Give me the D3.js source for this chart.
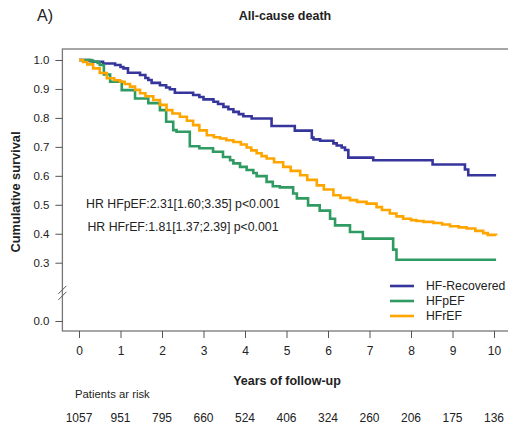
<!DOCTYPE html>
<html>
<head>
<meta charset="utf-8">
<script src="https://cdn.jsdelivr.net/npm/d3@7"></script>
<style>
  html, body { margin: 0; padding: 0; background: #fff; }
  svg { display: block; font-family: "Liberation Sans", Arial, Helvetica, sans-serif; }
</style>
</head>
<body>
<svg id="chart" width="508" height="428"></svg>
<script>
// Kaplan-Meier step curves: time (years) and cumulative survival
const recoveredTime = [0, 0.25, 0.34, 0.58, 0.87, 1.0, 1.07, 1.18, 1.47, 1.6, 1.67, 1.75, 1.95, 2.1, 2.19, 2.31, 2.75, 2.9, 3.0, 3.24, 3.35, 3.48, 3.6, 3.72, 3.85, 3.96, 4.16, 4.64, 5.2, 5.61, 5.65, 5.81, 6.13, 6.21, 6.33, 6.41, 6.49, 7.09, 8.52, 9.3, 9.38, 10.05];
const recoveredSurv = [1.0, 0.997, 0.994, 0.988, 0.983, 0.976, 0.971, 0.956, 0.948, 0.938, 0.931, 0.921, 0.913, 0.905, 0.899, 0.887, 0.879, 0.872, 0.864, 0.856, 0.848, 0.838, 0.83, 0.821, 0.813, 0.806, 0.798, 0.772, 0.756, 0.732, 0.726, 0.721, 0.712, 0.705, 0.698, 0.689, 0.663, 0.654, 0.639, 0.622, 0.602, 0.602];

const pefTime = [0, 0.3, 0.45, 0.5, 0.6, 0.75, 1.03, 1.35, 1.67, 1.95, 2.1, 2.27, 2.35, 2.67, 2.9, 3.23, 3.47, 3.64, 3.72, 3.88, 4.04, 4.2, 4.28, 4.52, 4.67, 4.84, 5.16, 5.25, 5.52, 5.8, 6.05, 6.17, 6.53, 6.84, 7.57, 7.65, 10.05];
const pefSurv = [1.0, 0.995, 0.99, 0.983, 0.95, 0.925, 0.896, 0.867, 0.851, 0.827, 0.787, 0.758, 0.752, 0.702, 0.695, 0.683, 0.665, 0.654, 0.643, 0.631, 0.62, 0.61, 0.599, 0.579, 0.564, 0.56, 0.539, 0.522, 0.498, 0.48, 0.452, 0.429, 0.406, 0.383, 0.345, 0.31, 0.31];

const refTime = [0, 0.1, 0.2, 0.34, 0.5, 0.67, 0.85, 0.99, 1.1, 1.23, 1.35, 1.47, 1.6, 1.79, 1.95, 2.11, 2.25, 2.43, 2.6, 2.75, 2.9, 3.08, 3.25, 3.4, 3.55, 3.72, 3.9, 4.04, 4.15, 4.28, 4.4, 4.52, 4.7, 4.92, 5.1, 5.33, 5.5, 5.73, 5.9, 6.13, 6.3, 6.53, 6.7, 6.93, 7.17, 7.3, 7.49, 7.65, 7.81, 8.0, 8.13, 8.3, 8.54, 8.75, 8.94, 9.15, 9.34, 9.55, 9.74, 9.85, 10.05];
const refSurv = [1.0, 0.993, 0.985, 0.971, 0.955, 0.937, 0.93, 0.925, 0.917, 0.908, 0.897, 0.885, 0.875, 0.862, 0.845, 0.827, 0.815, 0.804, 0.79, 0.775, 0.757, 0.74, 0.733, 0.729, 0.723, 0.717, 0.708, 0.698, 0.688, 0.678, 0.668, 0.66, 0.647, 0.631, 0.617, 0.602, 0.586, 0.567, 0.553, 0.533, 0.524, 0.516, 0.51, 0.504, 0.492, 0.482, 0.47, 0.46, 0.452, 0.447, 0.444, 0.441, 0.437, 0.432, 0.426, 0.422, 0.418, 0.41, 0.402, 0.396, 0.394];

const groupNames = ["HF-Recovered", "HFpEF", "HFrEF"];
const groupColors = ["#35359c", "#2f9a62", "#ffa500"];

const xTicks = [0, 1, 2, 3, 4, 5, 6, 7, 8, 9, 10];
const yTicks = [0.0, 0.3, 0.4, 0.5, 0.6, 0.7, 0.8, 0.9, 1.0];
const atRisk = [1057, 951, 795, 660, 524, 406, 324, 260, 206, 175, 136];

const hrLines = ["HR HFpEF:2.31[1.60;3.35] p<0.001", "HR HFrEF:1.81[1.37;2.39] p<0.001"];

const series = [
  { name: groupNames[0], color: groupColors[0], pts: recoveredTime.map((t, i) => [t, recoveredSurv[i]]) },
  { name: groupNames[1], color: groupColors[1], pts: pefTime.map((t, i) => [t, pefSurv[i]]) },
  { name: groupNames[2], color: groupColors[2], pts: refTime.map((t, i) => [t, refSurv[i]]) }
];

const svg = d3.select("#chart");
const axisColor = "#555";
const textColor = "#222";

// x: R-style 4% padding around 0..10
const x = d3.scaleLinear().domain([-0.4, 10.4]).range([62.4, 510.6]);
// y: broken axis, 0.0 sits just below the 0.3 region
const y = d3.scaleLinear().domain([-0.0515, 0.3, 1.038]).range([331, 262.7, 49]);

const plotTop = y(1.038), plotBottom = y(-0.0515);
const plotLeft = x(-0.4), plotRight = x(10.4);

// frame
svg.append("rect")
  .attr("x", plotLeft).attr("y", plotTop)
  .attr("width", plotRight - plotLeft).attr("height", plotBottom - plotTop)
  .attr("fill", "none").attr("stroke", "#777").attr("stroke-width", 1.3);

// y axis
const yAxis = svg.append("g")
  .attr("transform", `translate(${plotLeft},0)`)
  .call(d3.axisLeft(y).tickValues(yTicks).tickSize(7).tickPadding(6).tickFormat(d3.format(".1f")));
yAxis.select(".domain").remove();
yAxis.selectAll(".tick line").attr("stroke", axisColor);
yAxis.selectAll(".tick text").attr("fill", textColor).style("font-size", "11.5px")
  .style("font-family", "Liberation Sans, Arial, sans-serif");

// axis break marks
const yBreak = (y(0.3) + y(0.0)) / 2 + 1;
[-3, 3].forEach(d => {
  svg.append("line")
    .attr("x1", plotLeft - 4).attr("y1", yBreak + d + 4)
    .attr("x2", plotLeft + 4).attr("y2", yBreak + d - 4)
    .attr("stroke", axisColor).attr("stroke-width", 1);
});

// x axis
const xAxis = svg.append("g")
  .attr("transform", `translate(0,${plotBottom})`)
  .call(d3.axisBottom(x).tickValues(xTicks).tickSize(7).tickPadding(8).tickFormat(d3.format("d")));
xAxis.select(".domain").remove();
xAxis.selectAll(".tick line").attr("stroke", axisColor);
xAxis.selectAll(".tick text").attr("fill", textColor).style("font-size", "12px")
  .style("font-family", "Liberation Sans, Arial, sans-serif");

// survival curves
const line = d3.line().x(d => x(d[0])).y(d => y(d[1])).curve(d3.curveStepAfter);
series.forEach(s => {
  svg.append("path")
    .attr("d", line(s.pts))
    .attr("fill", "none")
    .attr("stroke", s.color)
    .attr("stroke-width", 2.6)
    .attr("stroke-linejoin", "miter");
});

// hazard ratio annotations
hrLines.forEach((t, i) => {
  svg.append("text")
    .attr("x", 183).attr("y", 208 + i * 23)
    .attr("text-anchor", "middle")
    .attr("fill", textColor)
    .style("font-size", "12.3px")
    .text(t);
});

// legend
const legend = svg.append("g");
series.forEach((s, i) => {
  const ly = 286 + i * 15;
  legend.append("line")
    .attr("x1", 390).attr("x2", 414).attr("y1", ly).attr("y2", ly)
    .attr("stroke", s.color).attr("stroke-width", 2.6);
  legend.append("text")
    .attr("x", 426).attr("y", ly + 4.3)
    .attr("fill", textColor)
    .style("font-size", "12.2px")
    .text(s.name);
});

// titles
svg.append("text").attr("x", 37).attr("y", 21)
  .attr("fill", textColor).style("font-size", "16px").text("A)");
svg.append("text").attr("x", 285).attr("y", 20)
  .attr("text-anchor", "middle").attr("fill", textColor)
  .style("font-size", "12.5px").style("font-weight", "bold").text("All-cause death");
svg.append("text")
  .attr("transform", "translate(20,192) rotate(-90)")
  .attr("text-anchor", "middle").attr("fill", textColor)
  .style("font-size", "12.8px").style("font-weight", "bold").text("Cumulative survival");
svg.append("text").attr("x", 287).attr("y", 385)
  .attr("text-anchor", "middle").attr("fill", textColor)
  .style("font-size", "12.5px").style("font-weight", "bold").text("Years of follow-up");

// patients at risk
svg.append("text").attr("x", 75).attr("y", 398)
  .attr("fill", textColor).style("font-size", "11.3px").text("Patients ar risk");
svg.append("g").selectAll("text").data(atRisk).join("text")
  .attr("x", (d, i) => x(xTicks[i]))
  .attr("y", 422)
  .attr("text-anchor", "middle")
  .attr("fill", textColor)
  .style("font-size", "12px")
  .text(d => d);
</script>
</body>
</html>
